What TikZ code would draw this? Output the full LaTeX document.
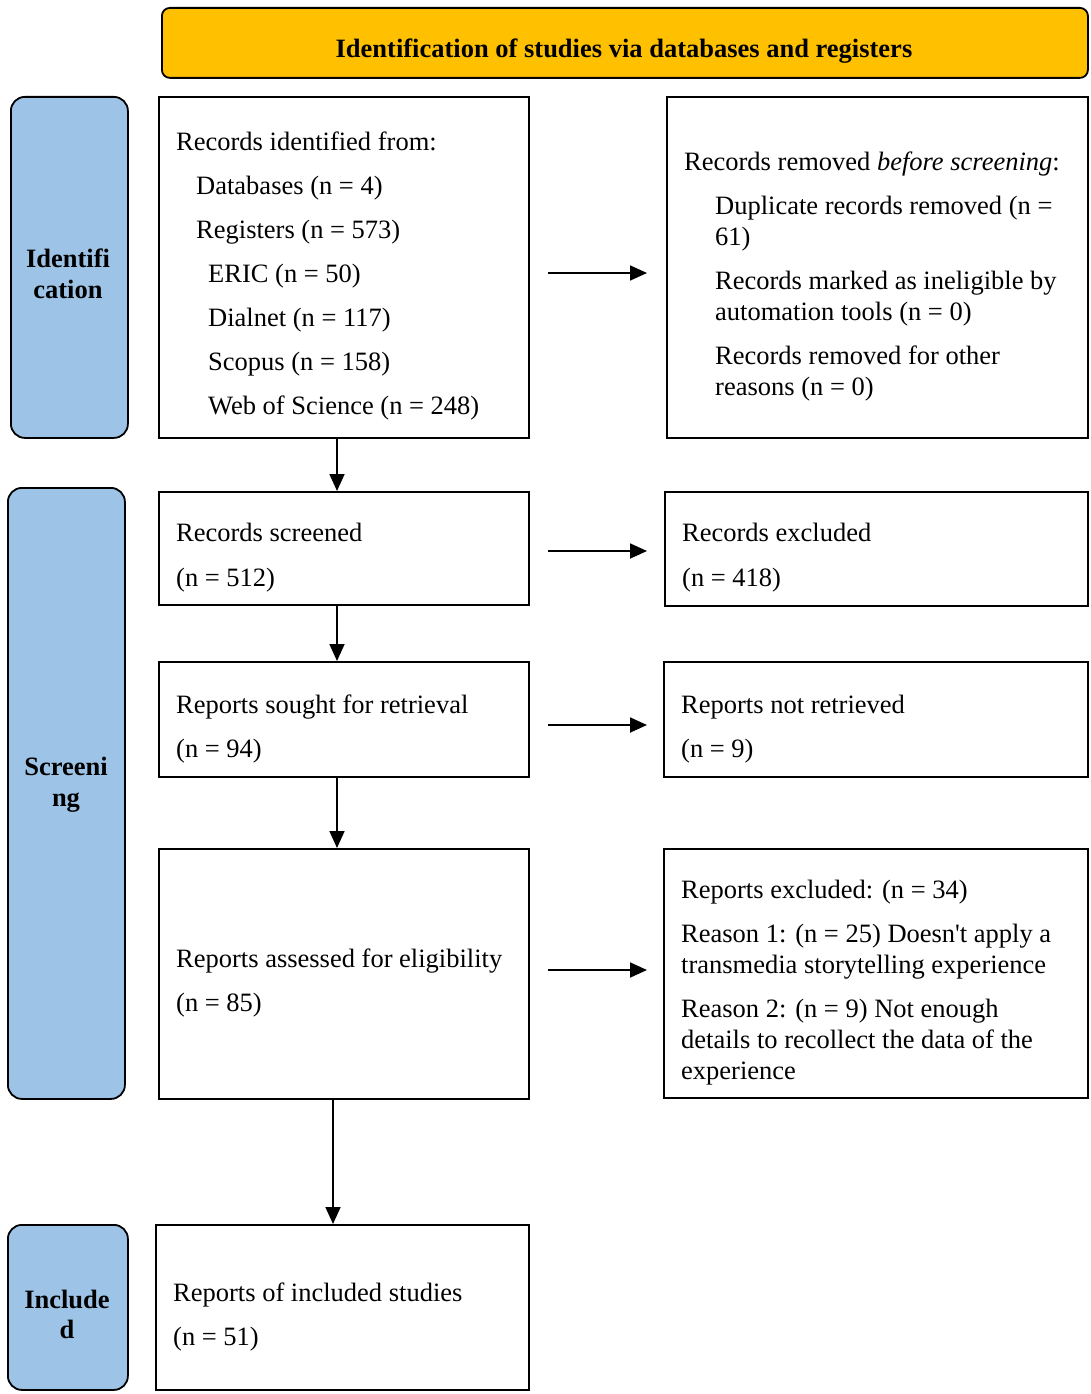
\documentclass[tikz,border=0pt]{standalone}
\usepackage{fontspec}
\setmainfont{Liberation Serif}
\usetikzlibrary{arrows.meta}
\definecolor{hdrfill}{HTML}{FFC000}
\definecolor{sidefill}{HTML}{9DC3E6}
\begin{document}
\begin{tikzpicture}[x=1pt,y=-1pt,
  box/.style={draw,line width=1.8pt,inner sep=0pt,anchor=north west},
  sidebox/.style={draw,line width=1.8pt,inner sep=0pt,anchor=north west,fill=sidefill,rounded corners=14pt},
  hdrbox/.style={draw,line width=1.8pt,inner sep=0pt,anchor=north west,fill=hdrfill,rounded corners=8pt},
  txt/.style={anchor=base west,inner sep=0pt,font=\fontsize{26.5}{30}\selectfont},
  btxt/.style={anchor=base,inner sep=0pt,font=\fontsize{26.5}{30}\selectfont\bfseries},
  arr/.style={line width=1.8pt,-{Triangle[length=17pt,width=15pt]}}]
\useasboundingbox (0,0) rectangle (1091,1394);
% header
\node[hdrbox,minimum width=926pt,minimum height=70pt] (hdr) at (161,7) {};
\node[btxt] (hdrt) at (624,58) {Identification of studies via databases and registers};
% side labels
\node[sidebox,minimum width=117pt,minimum height=341pt] (s1) at (10,96) {};
\node[btxt] (s1a) at (68,267) {Identifi};
\node[btxt] (s1b) at (68,298) {cation};
\node[sidebox,minimum width=117pt,minimum height=611pt] (s2) at (7,487) {};
\node[btxt] (s2a) at (66,775) {Screeni};
\node[btxt] (s2b) at (66,806) {ng};
\node[sidebox,minimum width=120pt,minimum height=165pt] (s3) at (7,1224) {};
\node[btxt] (s3a) at (67,1308) {Include};
\node[btxt] (s3b) at (67,1338) {d};
% left boxes
\node[box,minimum width=370pt,minimum height=341pt] (b1) at (158,96) {};
\node[txt] (b1a) at (176,150) {Records identified from:};
\node[txt] (b1b) at (196,194) {Databases (n = 4)};
\node[txt] (b1c) at (196,238) {Registers (n = 573)};
\node[txt] (b1d) at (208,282) {ERIC (n = 50)};
\node[txt] (b1e) at (208,326) {Dialnet (n = 117)};
\node[txt] (b1f) at (208,370) {Scopus (n = 158)};
\node[txt] (b1g) at (208,414) {Web of Science (n = 248)};
\node[box,minimum width=370pt,minimum height=113pt] (b2) at (158,491) {};
\node[txt] (b2a) at (176,541) {Records screened};
\node[txt] (b2b) at (176,586) {(n = 512)};
\node[box,minimum width=370pt,minimum height=115pt] (b3) at (158,661) {};
\node[txt] (b3a) at (176,713) {Reports sought for retrieval};
\node[txt] (b3b) at (176,757) {(n = 94)};
\node[box,minimum width=370pt,minimum height=250pt] (b4) at (158,848) {};
\node[txt] (b4a) at (176,967) {Reports assessed for eligibility};
\node[txt] (b4b) at (176,1011) {(n = 85)};
\node[box,minimum width=373pt,minimum height=165pt] (b5) at (155,1224) {};
\node[txt] (b5a) at (173,1301) {Reports of included studies};
\node[txt] (b5b) at (173,1345) {(n = 51)};
% right boxes
\node[box,minimum width=421pt,minimum height=341pt] (r1) at (666,96) {};
\node[txt] (r1a) at (684,170) {Records removed \textit{before screening}:};
\node[txt] (r1b) at (715,214) {Duplicate records removed (n =};
\node[txt] (r1c) at (715,245) {61)};
\node[txt] (r1d) at (715,289) {Records marked as ineligible by};
\node[txt] (r1e) at (715,320) {automation tools (n = 0)};
\node[txt] (r1f) at (715,364) {Records removed for other};
\node[txt] (r1g) at (715,395) {reasons (n = 0)};
\node[box,minimum width=423pt,minimum height=114pt] (r2) at (664,491) {};
\node[txt] (r2a) at (682,541) {Records excluded};
\node[txt] (r2b) at (682,586) {(n = 418)};
\node[box,minimum width=424pt,minimum height=115pt] (r3) at (663,661) {};
\node[txt] (r3a) at (681,713) {Reports not retrieved};
\node[txt] (r3b) at (681,757) {(n = 9)};
\node[box,minimum width=424pt,minimum height=249pt] (r4) at (663,848) {};
\node[txt] (r4a) at (681,898) {Reports excluded: (n = 34)};
\node[txt] (r4b) at (681,942) {Reason 1: (n = 25) Doesn\textquotesingle t apply a};
\node[txt] (r4c) at (681,973) {transmedia storytelling experience};
\node[txt] (r4d) at (681,1017) {Reason 2: (n = 9) Not enough};
\node[txt] (r4e) at (681,1048) {details to recollect the data of the};
\node[txt] (r4f) at (681,1079) {experience};
% horizontal arrows (free ends)
\coordinate (h1s) at (548,273); \coordinate (h1e) at (647,273);
\coordinate (h2s) at (548,551); \coordinate (h2e) at (647,551);
\coordinate (h3s) at (548,725); \coordinate (h3e) at (647,725);
\coordinate (h4s) at (548,970); \coordinate (h4e) at (647,970);
\draw[arr] (h1s) -- (h1e);
\draw[arr] (h2s) -- (h2e);
\draw[arr] (h3s) -- (h3e);
\draw[arr] (h4s) -- (h4e);
% vertical arrows
\coordinate (va) at (337,0);
\coordinate (vb) at (333,0);
\draw[arr] (b1.south -| va) -- (b2.north -| va);
\draw[arr] (b2.south -| va) -- (b3.north -| va);
\draw[arr] (b3.south -| va) -- (b4.north -| va);
\draw[arr] (b4.south -| vb) -- (b5.north -| vb);
\end{tikzpicture}
\end{document}
